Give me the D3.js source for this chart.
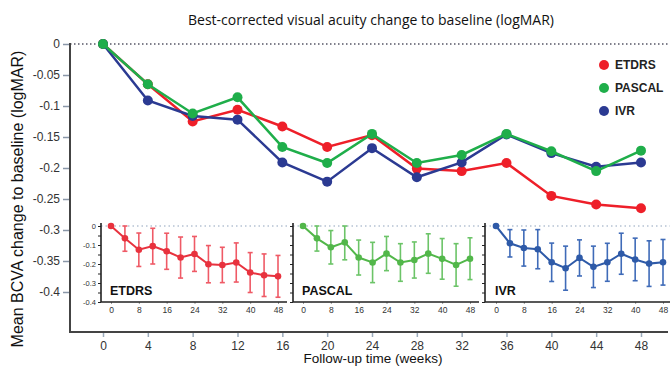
<!DOCTYPE html>
<html>
<head>
<meta charset="utf-8">
<script src="https://cdn.jsdelivr.net/npm/d3@7"></script>
<style>
  html, body { margin: 0; padding: 0; background: #fff; }
  svg { display: block; font-family: "Liberation Sans", Arial, sans-serif; }
</style>
</head>
<body>
<svg id="chart" width="670" height="367"></svg>
<script>
// ---------- DATA ----------
const weeks = [0, 4, 8, 12, 16, 20, 24, 28, 32, 36, 40, 44, 48];
const seriesNames = ["ETDRS", "PASCAL", "IVR"];
const etdrs  = [0, -0.065, -0.125, -0.106, -0.133, -0.166, -0.147, -0.201, -0.205, -0.192, -0.245, -0.259, -0.265];
const pascal = [0, -0.065, -0.112, -0.086, -0.166, -0.192, -0.145, -0.192, -0.179, -0.145, -0.173, -0.205, -0.172];
const ivr    = [0, -0.091, -0.116, -0.122, -0.191, -0.222, -0.168, -0.215, -0.191, -0.146, -0.176, -0.198, -0.191];
// error bar half-widths (insets)
const etdrsErr  = [0, 0.068, 0.088, 0.094, 0.095, 0.108, 0.092, 0.098, 0.093, 0.103, 0.105, 0.112, 0.110];
const pascalErr = [0, 0.067, 0.088, 0.092, 0.092, 0.106, 0.090, 0.099, 0.095, 0.104, 0.107, 0.112, 0.110];
const ivrErr    = [0, 0.072, 0.095, 0.103, 0.101, 0.116, 0.095, 0.109, 0.100, 0.108, 0.112, 0.120, 0.120];
const yTicks = [0, -0.05, -0.1, -0.15, -0.2, -0.25, -0.3, -0.35, -0.4];
const xTicks = [0, 4, 8, 12, 16, 20, 24, 28, 32, 36, 40, 44, 48];
const insetXTicks = [0, 8, 16, 24, 32, 40, 48];
const insetYTicks = [0, -0.1, -0.2, -0.3, -0.4];
const insetYMinor = [0, -0.05, -0.1, -0.15, -0.2, -0.25, -0.3, -0.35, -0.4];

const title = "Best-corrected visual acuity change to baseline (logMAR)";
const yTitle = "Mean BCVA change to baseline (logMAR)";
const xTitle = "Follow-up time (weeks)";

// ---------- STYLE ----------
const mainColors = { ETDRS: "#ee1f29", PASCAL: "#1fae4a", IVR: "#2b3a92" };
const insetColors = { ETDRS: "#e8323e", PASCAL: "#52b74a", IVR: "#2e5aa8" };
const errColors = { ETDRS: "#ef5a66", PASCAL: "#6cc468", IVR: "#3f6bb8" };

const svg = d3.select("#chart");
const fmt = d => d === 0 ? "0" : String(+d.toFixed(2));

const x = d3.scaleLinear().domain([0, 48]).range([103, 641]);
const y = d3.scaleLinear().domain([-0.4, 0]).range([292, 44]);
const axisX0 = 70, axisYB = 332;

// title
svg.append("text").attr("x", 371).attr("y", 25).attr("text-anchor", "middle")
  .attr("font-family", "'Open Sans', 'Liberation Sans', sans-serif")
  .attr("font-size", 14).attr("fill", "#111").text(title);

// y-axis title
svg.append("text").attr("transform", "translate(23,199) rotate(-90)")
  .attr("text-anchor", "middle").attr("font-size", 16).attr("fill", "#111").text(yTitle);

// zero dotted line
svg.append("line").attr("x1", axisX0).attr("x2", 670).attr("y1", y(0)).attr("y2", y(0))
  .attr("stroke", "#556").attr("stroke-width", 1.5).attr("stroke-dasharray", "1.5,2.5");

// y axis
const gy = svg.append("g").attr("transform", `translate(${axisX0},0)`)
  .call(d3.axisLeft(y).tickValues(yTicks).tickFormat(fmt).tickSize(7).tickPadding(3));
gy.select(".domain").remove();
gy.selectAll(".tick line").attr("stroke", "#8a97a8").attr("stroke-width", 1.5);
gy.selectAll(".tick text").attr("font-size", 12).attr("fill", "#333").attr("font-family", "Liberation Sans, Arial, sans-serif");

// x axis
const gx = svg.append("g").attr("transform", `translate(0,${axisYB})`)
  .call(d3.axisBottom(x).tickValues(xTicks).tickSize(5).tickPadding(4));
gx.select(".domain").remove();
gx.selectAll(".tick line").attr("stroke", "#9aaabb").attr("stroke-width", 1.5);
gx.selectAll(".tick text").attr("font-size", 12).attr("fill", "#333").attr("font-family", "Liberation Sans, Arial, sans-serif");

// axis lines
svg.append("path").attr("d", `M${axisX0},${y(0) - 1}V${axisYB}H668`)
  .attr("fill", "none").attr("stroke", "#444").attr("stroke-width", 2);

// x title
svg.append("text").attr("x", 373).attr("y", 363).attr("text-anchor", "middle")
  .attr("font-size", 13.5).attr("fill", "#111").text(xTitle);

// ---------- INSETS ----------
const insets = [
  { name: "ETDRS", vals: etdrs, err: etdrsErr, left: 101, r0: 111, r1: 278, right: 287, labels: true },
  { name: "PASCAL", vals: pascal, err: pascalErr, left: 293, r0: 303, r1: 470, right: 479, labels: false },
  { name: "IVR", vals: ivr, err: ivrErr, left: 485, r0: 496, r1: 663, right: 670, labels: false }
];
const yi = d3.scaleLinear().domain([-0.4, 0]).range([302, 226]);

insets.forEach(ins => {
  const g = svg.append("g");
  const xi = d3.scaleLinear().domain([0, 48]).range([ins.r0, ins.r1]);
  // white background
  g.append("rect").attr("x", ins.left - (ins.labels ? 28 : 4)).attr("y", 220)
    .attr("width", ins.right - ins.left + (ins.labels ? 28 : 4)).attr("height", 98).attr("fill", "#fff");
  // dotted zero
  g.append("line").attr("x1", ins.left).attr("x2", ins.right).attr("y1", yi(0)).attr("y2", yi(0))
    .attr("stroke", "#8fa3bd").attr("stroke-width", 1.2).attr("stroke-dasharray", "1.5,3");
  // y axis
  const ay = g.append("g").attr("transform", `translate(${ins.left},0)`)
    .call(d3.axisLeft(yi).tickValues(insetYMinor).tickSize(3).tickPadding(2)
      .tickFormat(d => ins.labels && insetYTicks.some(t => Math.abs(t - d) < 1e-9) ? fmt(d) : ""));
  ay.select(".domain").remove();
  ay.selectAll(".tick line").attr("stroke", "#222").attr("stroke-width", 1);
  ay.selectAll(".tick text").attr("font-size", 7.5).attr("fill", "#333").attr("font-family", "Liberation Sans, Arial, sans-serif");
  // x axis
  const ax = g.append("g").attr("transform", `translate(0,${yi(-0.4)})`)
    .call(d3.axisBottom(xi).tickValues(insetXTicks).tickSize(2).tickPadding(3));
  ax.select(".domain").remove();
  ax.selectAll(".tick line").attr("stroke", "#999");
  ax.selectAll(".tick text").attr("font-size", 8.5).attr("fill", "#333").attr("font-family", "Liberation Sans, Arial, sans-serif");
  // axis frame
  g.append("path").attr("d", `M${ins.left},${yi(0) - 3}V${yi(-0.4)}H${ins.right}`)
    .attr("fill", "none").attr("stroke", "#222").attr("stroke-width", 1.6);
  // error bars
  const pts = weeks.map((w, i) => ({ w, v: ins.vals[i], e: ins.err[i] }));
  const eb = g.selectAll(".eb").data(pts.filter(p => p.e > 0)).enter().append("g");
  eb.append("line").attr("x1", p => xi(p.w)).attr("x2", p => xi(p.w))
    .attr("y1", p => yi(Math.min(0, p.v + p.e))).attr("y2", p => yi(p.v - p.e))
    .attr("stroke", errColors[ins.name]).attr("stroke-width", 1.6);
  [p => p.v - p.e, p => Math.min(0, p.v + p.e)].forEach(f => {
    eb.append("line").attr("x1", p => xi(p.w) - 2.5).attr("x2", p => xi(p.w) + 2.5)
      .attr("y1", p => yi(f(p))).attr("y2", p => yi(f(p)))
      .attr("stroke", errColors[ins.name]).attr("stroke-width", 1.6);
  });
  // line
  g.append("path").datum(pts)
    .attr("d", d3.line().x(p => xi(p.w)).y(p => yi(p.v)))
    .attr("fill", "none").attr("stroke", insetColors[ins.name]).attr("stroke-width", 2);
  g.selectAll(".pt").data(pts).enter().append("circle")
    .attr("cx", p => xi(p.w)).attr("cy", p => yi(p.v)).attr("r", 3.3)
    .attr("fill", insetColors[ins.name]);
  // label
  g.append("text").attr("x", ins.r0 - 1).attr("y", 295).attr("font-size", 12.5)
    .attr("font-weight", "bold").attr("fill", "#111").text(ins.name);
});

// ---------- MAIN SERIES ----------
const mainData = { ETDRS: etdrs, IVR: ivr, PASCAL: pascal };
["ETDRS", "IVR", "PASCAL"].forEach(name => {
  const pts = weeks.map((w, i) => ({ w, v: mainData[name][i] }));
  svg.append("path").datum(pts)
    .attr("d", d3.line().x(p => x(p.w)).y(p => y(p.v)))
    .attr("fill", "none").attr("stroke", mainColors[name]).attr("stroke-width", 2.5);
  svg.selectAll(null).data(pts).enter().append("circle")
    .attr("cx", p => x(p.w)).attr("cy", p => y(p.v)).attr("r", 5)
    .attr("fill", mainColors[name]);
});

// legend
seriesNames.forEach((name, i) => {
  const ly = 65 + i * 23;
  svg.append("circle").attr("cx", 604).attr("cy", ly).attr("r", 5).attr("fill", mainColors[name]);
  svg.append("text").attr("x", 615).attr("y", ly).attr("dy", "0.36em")
    .attr("font-size", 12).attr("font-weight", "bold").attr("fill", "#222").text(name);
});
</script>
</body>
</html>
